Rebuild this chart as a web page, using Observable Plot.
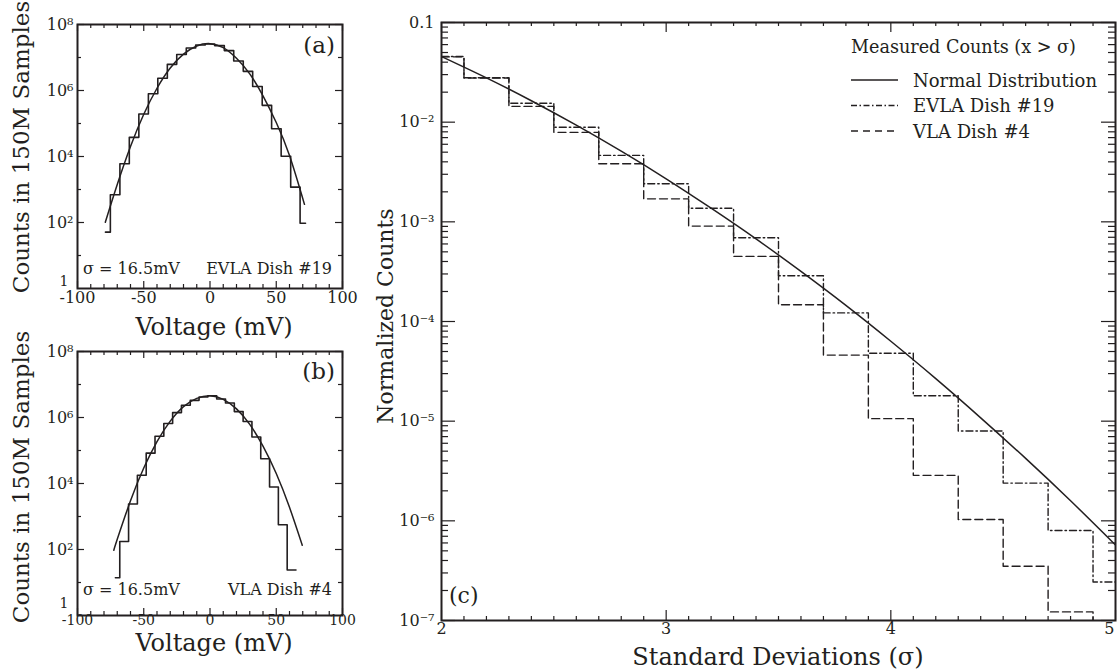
<!DOCTYPE html>
<html>
<head>
<meta charset="utf-8">
<script src="https://cdn.jsdelivr.net/npm/d3@7"></script>
<script src="https://cdn.jsdelivr.net/npm/@observablehq/plot@0.6"></script>
<style>
html,body{margin:0;padding:0;background:#fff;}
#root{position:relative;width:1119px;height:671px;overflow:hidden;background:#fff;font-family:"DejaVu Serif",serif;}
#root > svg, #root > figure{position:absolute;margin:0;}
#overlay{position:absolute;left:0;top:0;pointer-events:none;}
</style>
</head>
<body>
<div id="root"></div>
<script>
const ink = "#231f20";

// ---------- Panel (a): EVLA Dish #19 histogram (bin edges in mV, counts per bin) ----------
const aEdges = [-78.9, -75.2, -68.0, -60.9, -53.7, -46.5, -39.4, -32.2, -25.1, -17.9, -10.8, -3.6,
                3.6, 10.8, 17.9, 25.1, 32.2, 39.4, 46.5, 53.7, 60.9, 68.0, 72.1];
const aCounts = [51, 690, 6000, 38000, 195000, 794000, 2.34e6, 6.2e6, 1.23e7, 1.95e7, 2.4e7,
                 2.57e7, 2.29e7, 1.62e7, 7.8e6, 3.8e6, 1.32e6, 355000, 69000, 10200, 1180, 95];
// fitted normal curve for (a)
const aCurveV = [-79, -70, -60, -50, -40, -30, -20, -10, 0, 10, 20, 30, 40, 50, 60, 71.3];
const aCurveN = [102, 1410, 20000, 190000, 1.17e6, 4.8e6, 1.26e7, 2.24e7, 2.63e7, 2.0e7, 9.5e6,
                 3.2e6, 690000, 107000, 10700, 355];

// ---------- Panel (b): VLA Dish #4 ----------
const bEdges = [-71.4, -68.1, -61.45, -54.8, -48.15, -41.5, -34.85, -28.2, -21.55, -14.9, -8.25, -1.6,
                5.05, 11.7, 18.35, 25.0, 31.65, 38.3, 44.95, 51.6, 58.25, 64.9];
const bCounts = [14, 174, 2400, 17800, 83000, 269000, 661000, 1.41e6, 2.34e6, 3.31e6, 4.17e6,
                 4.57e6, 3.63e6, 2.75e6, 1.51e6, 759000, 257000, 56000, 7800, 560, 24];
const bCurveV = [-72.6, -70, -60, -50, -40, -30, -20, -10, 0, 10, 20, 30, 40, 50, 60, 69.6];
const bCurveN = [95, 204, 3000, 29500, 186000, 776000, 2.14e6, 3.8e6, 4.57e6, 3.55e6, 1.82e6,
                 617000, 135000, 20000, 1900, 135];

// ---------- Panel (c): normalized counts beyond x sigma ----------
const cSigma  = [2.0, 2.2, 2.4, 2.6, 2.8, 3.0, 3.2, 3.4, 3.6, 3.8, 4.0, 4.2, 4.4, 4.6, 4.8, 5.0];
const cNormal = [0.0455, 0.0278, 0.0164, 0.00932, 0.00511, 0.0027, 0.00137, 0.000674, 0.000318,
                 0.000145, 6.33e-5, 2.67e-5, 1.08e-5, 4.23e-6, 1.59e-6, 5.73e-7];
const cEVLA   = [0.0456, 0.0279, 0.0155, 0.0089, 0.00464, 0.00241, 0.00137, 0.000692, 0.000288,
                 0.000122, 4.8e-5, 1.8e-5, 7.96e-6, 2.39e-6, 8.0e-7, 2.43e-7];
const cVLA    = [0.0452, 0.0277, 0.0144, 0.0079, 0.00383, 0.0017, 0.000906, 0.00045, 0.000147,
                 4.6e-5, 1.06e-5, 2.86e-6, 1.03e-6, 3.5e-7, 1.22e-7, 6e-8];

// ---------- ticks ----------
const voltMajor = [-100, -50, 0, 50, 100];
const voltMinor = [-90, -80, -70, -60, -40, -30, -20, -10, 10, 20, 30, 40, 60, 70, 80, 90];
const countLabeled = [1e2, 1e4, 1e6, 1e8];
const countLabels = ["10²", "10⁴", "10⁶", "10⁸"];
const countUnit = [1];
const countUnitLabel = ["1"];
const countOdd = [10, 1e3, 1e5, 1e7];
const sigmaMajor = [2, 3, 4];
const sigmaLast = [5];
const sigmaMinor = [2.1, 2.2, 2.3, 2.4, 2.5, 2.6, 2.7, 2.8, 2.9, 3.1, 3.2, 3.3, 3.4, 3.5, 3.6, 3.7,
                    3.8, 3.9, 4.1, 4.2, 4.3, 4.4, 4.5, 4.6, 4.7, 4.8, 4.9];
const normDecades = [1e-7, 1e-6, 1e-5, 1e-4, 1e-3, 1e-2, 0.1];
const normLabels = ["10⁻⁷", "10⁻⁶", "10⁻⁵", "10⁻⁴", "10⁻³", "10⁻²", "0.1"];
const normMinor = [];
for (const d of normDecades.slice(0, -1)) for (let m = 2; m <= 9; m++) normMinor.push(d * m);

const baseStyle = {background: "transparent", fontFamily: "DejaVu Serif", fontSize: "16px", color: ink, overflow: "visible"};

function voltPanel(edges, counts, cv, cn, labelDy, labelSize, unitDy) {
  const W = 370, H = 340, ml = 77, mr = 28, mt = 24, mb = 52;
  const PW = W - ml - mr, PH = H - mt - mb;
  const hist = edges.map((e, i) => ({v: e, n: counts[Math.min(i, counts.length - 1)]}));
  const curve = cv.map((v, i) => ({v, n: cn[i]}));
  const tk = {stroke: ink, strokeWidth: 1.2};
  return Plot.plot({
    width: W, height: H, marginLeft: ml, marginRight: mr, marginTop: mt, marginBottom: mb,
    x: {domain: [-100, 100], axis: null},
    y: {type: "log", domain: [1, 1e8], axis: null},
    style: baseStyle,
    marks: [
      Plot.tickX(voltMinor, {x: d => d, insetTop: PH - 4, ...tk}),
      Plot.tickX(voltMinor, {x: d => d, insetBottom: PH - 4, ...tk}),
      Plot.tickX(voltMajor, {x: d => d, insetTop: PH - 7, ...tk}),
      Plot.tickX(voltMajor, {x: d => d, insetBottom: PH - 7, ...tk}),
      Plot.tickY(countLabeled, {y: d => d, insetRight: PW - 7, ...tk}),
      Plot.tickY(countLabeled, {y: d => d, insetLeft: PW - 7, ...tk}),
      Plot.tickY(countOdd, {y: d => d, insetRight: PW - 4, ...tk}),
      Plot.tickY(countOdd, {y: d => d, insetLeft: PW - 4, ...tk}),
      Plot.line(hist, {x: "v", y: "n", curve: "step-after", stroke: ink, strokeWidth: 1.6}),
      Plot.line(curve, {x: "v", y: "n", curve: "natural", stroke: ink, strokeWidth: 1.5}),
      Plot.frame({stroke: ink, strokeWidth: 2}),
      Plot.text(voltMajor, {x: d => d, frameAnchor: "bottom", dy: labelDy, text: d => String(d), fill: ink, fontSize: labelSize}),
      Plot.text(countLabeled, {y: d => d, frameAnchor: "left", dx: -4, textAnchor: "end",
        text: (d, i) => countLabels[i], fill: ink, fontSize: 16}),
      Plot.text(countUnit, {y: d => d, frameAnchor: "left", dx: -9, dy: unitDy, textAnchor: "end",
        text: (d, i) => countUnitLabel[i], fill: ink, fontSize: 14})
    ]
  });
}

function sigmaPanel() {
  const W = 759, H = 671, ml = 81, mr = 4, mt = 22, mb = 51;
  const PW = W - ml - mr, PH = H - mt - mb;
  const tk = {stroke: ink, strokeWidth: 1.2};
  const rows = cSigma.map((s, i) => ({s, normal: cNormal[i], evla: cEVLA[i], vla: cVLA[i]}));
  return Plot.plot({
    width: W, height: H, marginLeft: ml, marginRight: mr, marginTop: mt, marginBottom: mb,
    x: {domain: [2, 5], axis: null},
    y: {type: "log", domain: [1e-7, 0.1], axis: null},
    style: baseStyle,
    marks: [
      Plot.tickX(sigmaMinor, {x: d => d, insetTop: PH - 4, ...tk}),
      Plot.tickX(sigmaMinor, {x: d => d, insetBottom: PH - 4, ...tk}),
      Plot.tickX(sigmaMajor.concat(sigmaLast), {x: d => d, insetTop: PH - 10, ...tk}),
      Plot.tickX(sigmaMajor.concat(sigmaLast), {x: d => d, insetBottom: PH - 10, ...tk}),
      Plot.tickY(normDecades, {y: d => d, insetRight: PW - 14, ...tk}),
      Plot.tickY(normDecades, {y: d => d, insetLeft: PW - 14, ...tk}),
      Plot.tickY(normMinor, {y: d => d, insetRight: PW - 7, ...tk}),
      Plot.tickY(normMinor, {y: d => d, insetLeft: PW - 7, ...tk}),
      Plot.line(rows, {x: "s", y: "vla", curve: "step", stroke: ink, strokeWidth: 1.4, strokeDasharray: "8,4", clip: true}),
      Plot.line(rows, {x: "s", y: "evla", curve: "step", stroke: ink, strokeWidth: 1.4, strokeDasharray: "7,3,1.5,3", clip: true}),
      Plot.line(rows, {x: "s", y: "normal", curve: "natural", stroke: ink, strokeWidth: 1.5, clip: true}),
      Plot.frame({stroke: ink, strokeWidth: 2}),
      Plot.text(sigmaMajor, {x: d => d, frameAnchor: "bottom", dy: 13, text: d => String(d), fill: ink, fontSize: 16}),
      Plot.text(sigmaLast, {x: d => d, frameAnchor: "bottom", dy: 13, dx: -1, textAnchor: "end", text: d => String(d), fill: ink, fontSize: 16}),
      Plot.text(normDecades, {y: d => d, frameAnchor: "left", dx: -7, textAnchor: "end",
        text: (d, i) => normLabels[i], fill: ink, fontSize: 16})
    ]
  });
}

const root = document.getElementById("root");
function place(el, left, top) { el.style.left = left + "px"; el.style.top = top + "px"; root.appendChild(el); }
place(voltPanel(aEdges, aCounts, aCurveV, aCurveN, 14, 16, -6.5), 0, 0);
place(voltPanel(bEdges, bCounts, bCurveV, bCurveN, 9, 14, -12), 0, 327);
place(sigmaPanel(), 360, 0);

// ---------- text labels, legend ----------
const legendItems = [
  {label: "Normal Distribution", dash: null},
  {label: "EVLA Dish #19", dash: "6,2.5,1.5,2.5"},
  {label: "VLA Dish #4", dash: "7,5"}
];
const ns = "http://www.w3.org/2000/svg";
const ov = document.createElementNS(ns, "svg");
ov.setAttribute("id", "overlay");
ov.setAttribute("width", 1119); ov.setAttribute("height", 671);
ov.setAttribute("font-family", "DejaVu Serif");
ov.setAttribute("fill", ink);
function txt(s, x, y, size, anchor = "start", rot = 0) {
  const t = document.createElementNS(ns, "text");
  t.textContent = s;
  t.setAttribute("font-size", size);
  t.setAttribute("text-anchor", anchor);
  if (rot) t.setAttribute("transform", `translate(${x},${y}) rotate(${rot})`);
  else { t.setAttribute("x", x); t.setAttribute("y", y); }
  ov.appendChild(t);
}
txt("Counts in 150M Samples", 29, 147, 23, "middle", -90);
txt("Counts in 150M Samples", 29, 477, 23, "middle", -90);
txt("Voltage (mV)", 214, 335, 24, "middle");
txt("Voltage (mV)", 214, 651, 24, "middle");
txt("(a)", 335, 53, 23, "end");
txt("(b)", 335, 379, 23, "end");
txt("σ = 16.5mV", 83, 274, 16);
txt("EVLA Dish #19", 332, 274, 16, "end");
txt("σ = 16.5mV", 83, 595, 16);
txt("VLA Dish #4", 332, 595, 16, "end");
txt("Normalized Counts", 393, 316, 22, "middle", -90);
txt("Standard Deviations (σ)", 778, 665, 24, "middle");
txt("(c)", 449, 603, 22);
txt("Measured Counts (x > σ)", 851, 53, 17.6);
legendItems.forEach((it, i) => {
  const y = 80 + i * 25.5;
  const l = document.createElementNS(ns, "line");
  l.setAttribute("x1", 851); l.setAttribute("x2", 898);
  l.setAttribute("y1", y); l.setAttribute("y2", y);
  l.setAttribute("stroke", ink); l.setAttribute("stroke-width", 1.3);
  if (it.dash) l.setAttribute("stroke-dasharray", it.dash);
  ov.appendChild(l);
  txt(it.label, 913, y + 6.5, 18);
});
root.appendChild(ov);
</script>
</body>
</html>
